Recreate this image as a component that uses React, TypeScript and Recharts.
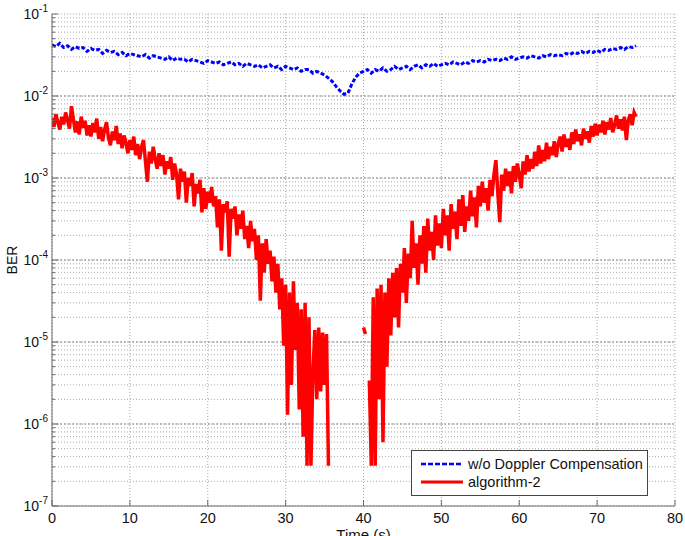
import React from 'react';
import { LineChart, Line, XAxis, YAxis, CartesianGrid, ReferenceLine } from 'recharts';

// time grids (s)
const blueTimeStep = 0.5; // 0 .. 75
const redTimeStep = 0.25; // 0 .. 75

// BER without Doppler compensation (blue dashed), one value every 0.5 s
const blueBer = [
  0.042, 0.040, 0.044, 0.039, 0.041, 0.037, 0.040, 0.038, 0.039, 0.035,
  0.038, 0.036, 0.037, 0.033, 0.036, 0.034, 0.035, 0.032, 0.034, 0.031,
  0.033, 0.032, 0.031, 0.030, 0.032, 0.029, 0.031, 0.030, 0.029, 0.028,
  0.030, 0.027, 0.029, 0.028, 0.028, 0.026, 0.028, 0.027, 0.026, 0.025,
  0.027, 0.026, 0.025, 0.026, 0.024, 0.025, 0.026, 0.024, 0.025, 0.023,
  0.025, 0.024, 0.023, 0.024, 0.022, 0.023, 0.024, 0.022, 0.023, 0.021,
  0.023, 0.022, 0.021, 0.022, 0.020, 0.021, 0.021, 0.019, 0.020, 0.019,
  0.018, 0.0165, 0.015, 0.013, 0.0115, 0.0105, 0.0108, 0.014, 0.017, 0.019,
  0.020, 0.021, 0.019, 0.021, 0.020, 0.022, 0.020, 0.021, 0.023, 0.021,
  0.022, 0.023, 0.021, 0.023, 0.024, 0.022, 0.024, 0.023, 0.025, 0.023,
  0.024, 0.025, 0.024, 0.026, 0.025, 0.024, 0.026, 0.025, 0.027, 0.026,
  0.027, 0.026, 0.028, 0.027, 0.028, 0.027, 0.029, 0.028, 0.030, 0.028,
  0.029, 0.030, 0.029, 0.031, 0.030, 0.029, 0.031, 0.030, 0.032, 0.031,
  0.032, 0.031, 0.033, 0.032, 0.034, 0.033, 0.035, 0.033, 0.035, 0.034,
  0.036, 0.034, 0.037, 0.036, 0.038, 0.037, 0.039, 0.037, 0.040, 0.039,
  0.041,
];

// BER with algorithm-2 (red solid), one value every 0.25 s; null = no errors observed
const redBer = [
  5.4e-3, 4.2e-3, 6.0e-3, 4.8e-3, 3.9e-3, 5.6e-3, 4.5e-3, 6.3e-3, 5.0e-3, 4.0e-3,
  7.5e-3, 5.2e-3, 3.6e-3, 4.9e-3, 3.4e-3, 5.6e-3, 4.1e-3, 5.0e-3, 3.3e-3, 4.4e-3,
  3.2e-3, 4.7e-3, 3.6e-3, 5.3e-3, 3.0e-3, 4.2e-3, 2.8e-3, 3.9e-3, 4.8e-3, 3.1e-3,
  2.5e-3, 3.7e-3, 2.9e-3, 4.3e-3, 2.6e-3, 3.5e-3, 2.3e-3, 3.3e-3, 2.7e-3, 2.0e-3,
  2.9e-3, 2.2e-3, 3.2e-3, 1.9e-3, 2.6e-3, 1.7e-3, 2.4e-3, 2.9e-3, 1.6e-3, 0.9e-3,
  2.1e-3, 1.5e-3, 2.4e-3, 1.7e-3, 1.3e-3, 2.0e-3, 1.4e-3, 1.9e-3, 1.1e-3, 1.6e-3,
  1.3e-3, 1.8e-3, 0.95e-3, 1.5e-3, 1.1e-3, 0.55e-3, 1.3e-3, 0.9e-3, 1.2e-3, 0.5e-3,
  1.0e-3, 0.8e-3, 1.15e-3, 0.45e-3, 0.85e-3, 0.65e-3, 0.95e-3, 0.38e-3, 0.75e-3, 0.42e-3,
  0.68e-3, 0.5e-3, 0.78e-3, 0.45e-3, 0.6e-3, 0.25e-3, 0.55e-3, 0.13e-3, 0.48e-3, 0.38e-3,
  0.52e-3, 0.11e-3, 0.42e-3, 0.32e-3, 0.45e-3, 0.2e-3, 0.36e-3, 0.24e-3, 0.4e-3, 0.18e-3,
  0.26e-3, 0.14e-3, 0.3e-3, 0.17e-3, 0.24e-3, 0.1e-3, 0.2e-3, 3.2e-5, 0.16e-3, 0.07e-3,
  0.18e-3, 0.09e-3, 0.13e-3, 5.5e-5, 0.11e-3, 4e-5, 0.09e-3, 2.5e-5, 6e-5, 9e-6,
  5e-5, 1.3e-6, 4e-5, 3e-6, 5.5e-5, 8e-6, 3e-5, 1.5e-6, 2.5e-5, 7e-7,
  3e-5, 3.1e-7, 2e-5, 3.1e-7, 4e-6, 1.4e-5, 2e-6, 1.5e-5, 2.5e-6, 1.3e-5,
  3e-6, 1.25e-5, 3.1e-7, null, null, null, null, null, null, null,
  null, null, null, null, null, null, null, null, null, null,
  1.5e-5, 1.25e-5, null, 3.4e-6, 3.1e-7, 3.5e-5, 3.1e-7, 4.5e-5, 2e-6, 5e-5,
  6e-7, 4e-5, 5e-6, 6e-5, 1.2e-5, 7e-5, 2e-5, 8e-5, 1.5e-5, 9e-5,
  4e-5, 1.4e-4, 3e-5, 1.2e-4, 6e-5, 3e-4, 8e-5, 1.6e-4, 5e-5, 2e-4,
  9e-5, 2.6e-4, 7e-5, 3.2e-4, 1.3e-4, 2.2e-4, 1e-4, 3.5e-4, 1.5e-4, 2.8e-4,
  1.4e-4, 4.2e-4, 2e-4, 3.5e-4, 1.3e-4, 4.8e-4, 2.4e-4, 3.9e-4, 1.8e-4, 5.5e-4,
  2.6e-4, 6.2e-4, 2.2e-4, 4.5e-4, 3e-4, 7e-4, 3.4e-4, 5.8e-4, 2.5e-4, 8e-4,
  4.5e-4, 9e-4, 5e-4, 7.5e-4, 4e-4, 9.5e-4, 6e-4, 1.1e-3, 1.65e-3, 6.5e-4,
  2.9e-4, 1.1e-3, 7e-4, 1.3e-3, 8e-4, 1.2e-3, 6.5e-4, 1.4e-3, 9e-4, 1.5e-3,
  1.1e-3, 7.5e-4, 1.6e-3, 1.1e-3, 1.9e-3, 1.2e-3, 1.7e-3, 1.3e-3, 2.1e-3, 1.4e-3,
  2.5e-3, 1.5e-3, 2.2e-3, 1.6e-3, 2.7e-3, 1.7e-3, 2.4e-3, 1.9e-3, 2.8e-3, 1.8e-3,
  2.6e-3, 3.2e-3, 2.1e-3, 3.4e-3, 2.4e-3, 3.0e-3, 2.2e-3, 3.6e-3, 2.6e-3, 3.9e-3,
  2.8e-3, 3.4e-3, 2.5e-3, 4.0e-3, 3.0e-3, 3.7e-3, 2.7e-3, 4.3e-3, 3.2e-3, 4.6e-3,
  3.3e-3, 4.5e-3, 3.6e-3, 5.0e-3, 3.4e-3, 4.8e-3, 3.9e-3, 5.4e-3, 3.6e-3, 4.4e-3,
  5.8e-3, 4.0e-3, 5.2e-3, 3.8e-3, 5.6e-3, 2.9e-3, 5.0e-3, 6.0e-3, 4.4e-3, 6.3e-3,
  5.6e-3,
];

const xTicks = [0, 10, 20, 30, 40, 50, 60, 70, 80];
const yDecades = [1e-7, 1e-6, 1e-5, 1e-4, 1e-3, 1e-2, 1e-1];
const yMinorMultipliers = [2, 3, 4, 5, 6, 7, 8, 9];
const seriesNames = ['w/o Doppler Compensation', 'algorithm-2'];

const yTicks = yDecades.flatMap((d, i) =>
  i < yDecades.length - 1 ? [d, ...yMinorMultipliers.map((m) => m * d)] : [d]
);

const blueData = blueBer.map((v, i) => ({ t: i * blueTimeStep, ber: v }));
const redData = redBer.map((v, i) => ({ t: i * redTimeStep, ber: v }));

const FONT = '"Liberation Sans", Arial, Helvetica, sans-serif';
const AXIS = '#6a6a6a';
const BLUE = '#0000ff';
const RED = '#ff0000';

const isDecade = (v: number) => {
  const l = Math.log10(v);
  return Math.abs(l - Math.round(l)) < 1e-6;
};

const LeftTick = (props: any) => {
  const { x, y, payload } = props;
  const v = payload.value;
  const major = isDecade(v);
  const exp = Math.round(Math.log10(v));
  return (
    <g>
      <line x1={x} x2={x + (major ? 6 : 3)} y1={y} y2={y} stroke={AXIS} />
      {major && (
        <text x={x - 4} y={y + 5} textAnchor="end" fontSize={14} fill="#111" fontFamily={FONT}>
          <tspan>10</tspan>
          <tspan dy={-7} fontSize={10}>{String(exp)}</tspan>
        </text>
      )}
    </g>
  );
};

const RightTick = (props: any) => {
  const { x, y, payload } = props;
  const major = isDecade(payload.value);
  return <line x1={x} x2={x - (major ? 6 : 3)} y1={y} y2={y} stroke={AXIS} />;
};

const BottomTick = (props: any) => {
  const { x, y, payload } = props;
  return (
    <g>
      <line x1={x} x2={x} y1={y} y2={y - 6} stroke={AXIS} />
      <text x={x} y={y + 17} textAnchor="middle" fontSize={14.5} fill="#111" fontFamily={FONT}>
        {payload.value}
      </text>
    </g>
  );
};

const TopTick = (props: any) => {
  const { x, y } = props;
  return <line x1={x} x2={x} y1={y} y2={y + 6} stroke={AXIS} />;
};

export default function App() {
  return (
    <div style={{ position: 'absolute', left: 0, top: 0, width: 685, height: 536, background: '#fff', overflow: 'hidden' }}>
      <LineChart width={685} height={536} margin={{ top: 14, right: 10, bottom: 0, left: 0 }}>
        <CartesianGrid xAxisId="b" yAxisId="l" stroke="#a8a8a8" strokeDasharray="1 2" />
        {yDecades.slice(1, -1).map((d) => (
          <ReferenceLine key={d} xAxisId="b" yAxisId="l" y={d} stroke="#8a8a8a" strokeDasharray="2 2" />
        ))}
        <XAxis
          xAxisId="b"
          type="number"
          dataKey="t"
          domain={[0, 80]}
          ticks={xTicks}
          interval={0}
          allowDataOverflow
          height={30}
          tickSize={0}
          tickMargin={0}
          tickLine={false}
          axisLine={{ stroke: AXIS }}
          tick={<BottomTick />}
          label={{
            content: (p: any) => {
              const vb = p.viewBox || { x: 52, y: 506, width: 623 };
              return (
                <text x={vb.x + vb.width / 2} y={vb.y + 34} textAnchor="middle" fontSize={15} fill="#111" fontFamily={FONT}>
                  Time (s)
                </text>
              );
            },
          }}
        />
        <XAxis
          xAxisId="t"
          orientation="top"
          type="number"
          dataKey="t"
          domain={[0, 80]}
          ticks={xTicks}
          interval={0}
          allowDataOverflow
          height={0}
          tickSize={0}
          tickMargin={0}
          tickLine={false}
          axisLine={{ stroke: AXIS }}
          tick={<TopTick />}
        />
        <YAxis
          yAxisId="l"
          scale="log"
          domain={[1e-7, 1e-1]}
          allowDataOverflow
          ticks={yTicks}
          interval={0}
          width={52}
          tickSize={0}
          tickMargin={0}
          tickLine={false}
          axisLine={{ stroke: AXIS }}
          tick={<LeftTick />}
          label={{
            content: (p: any) => {
              const vb = p.viewBox || { x: 0, y: 14, height: 492 };
              const cx = vb.x + 17;
              const cy = vb.y + vb.height / 2;
              return (
                <text x={cx} y={cy} transform={`rotate(-90, ${cx}, ${cy})`} textAnchor="middle" fontSize={14} fill="#111" fontFamily={FONT}>
                  BER
                </text>
              );
            },
          }}
        />
        <YAxis
          yAxisId="r"
          orientation="right"
          scale="log"
          domain={[1e-7, 1e-1]}
          allowDataOverflow
          ticks={yTicks}
          interval={0}
          width={0}
          tickSize={0}
          tickMargin={0}
          tickLine={false}
          axisLine={{ stroke: AXIS }}
          tick={<RightTick />}
        />
        <Line
          xAxisId="b"
          yAxisId="l"
          type="linear"
          data={blueData}
          dataKey="ber"
          name={seriesNames[0]}
          stroke={BLUE}
          strokeWidth={3}
          strokeDasharray="4 2"
          dot={false}
          isAnimationActive={false}
        />
        <Line
          xAxisId="b"
          yAxisId="l"
          type="linear"
          data={redData}
          dataKey="ber"
          name={seriesNames[1]}
          stroke={RED}
          strokeWidth={3.5}
          dot={false}
          connectNulls={false}
          isAnimationActive={false}
        />
      </LineChart>
      <svg width={685} height={536} style={{ position: 'absolute', left: 0, top: 0, pointerEvents: 'none' }}>
        <rect x={411.5} y={450.5} width={236} height={45} fill="#fff" stroke="#444" strokeWidth={1} />
        <line x1={421} x2={463} y1={464} y2={464} stroke={BLUE} strokeWidth={2.5} strokeDasharray="5 2" />
        <text x={468} y={469} fontSize={14.5} fill="#111" fontFamily={FONT}>{seriesNames[0]}</text>
        <line x1={421} x2={463} y1={482} y2={482} stroke={RED} strokeWidth={3} />
        <text x={468} y={487} fontSize={14.5} fill="#111" fontFamily={FONT}>{seriesNames[1]}</text>
      </svg>
    </div>
  );
}
